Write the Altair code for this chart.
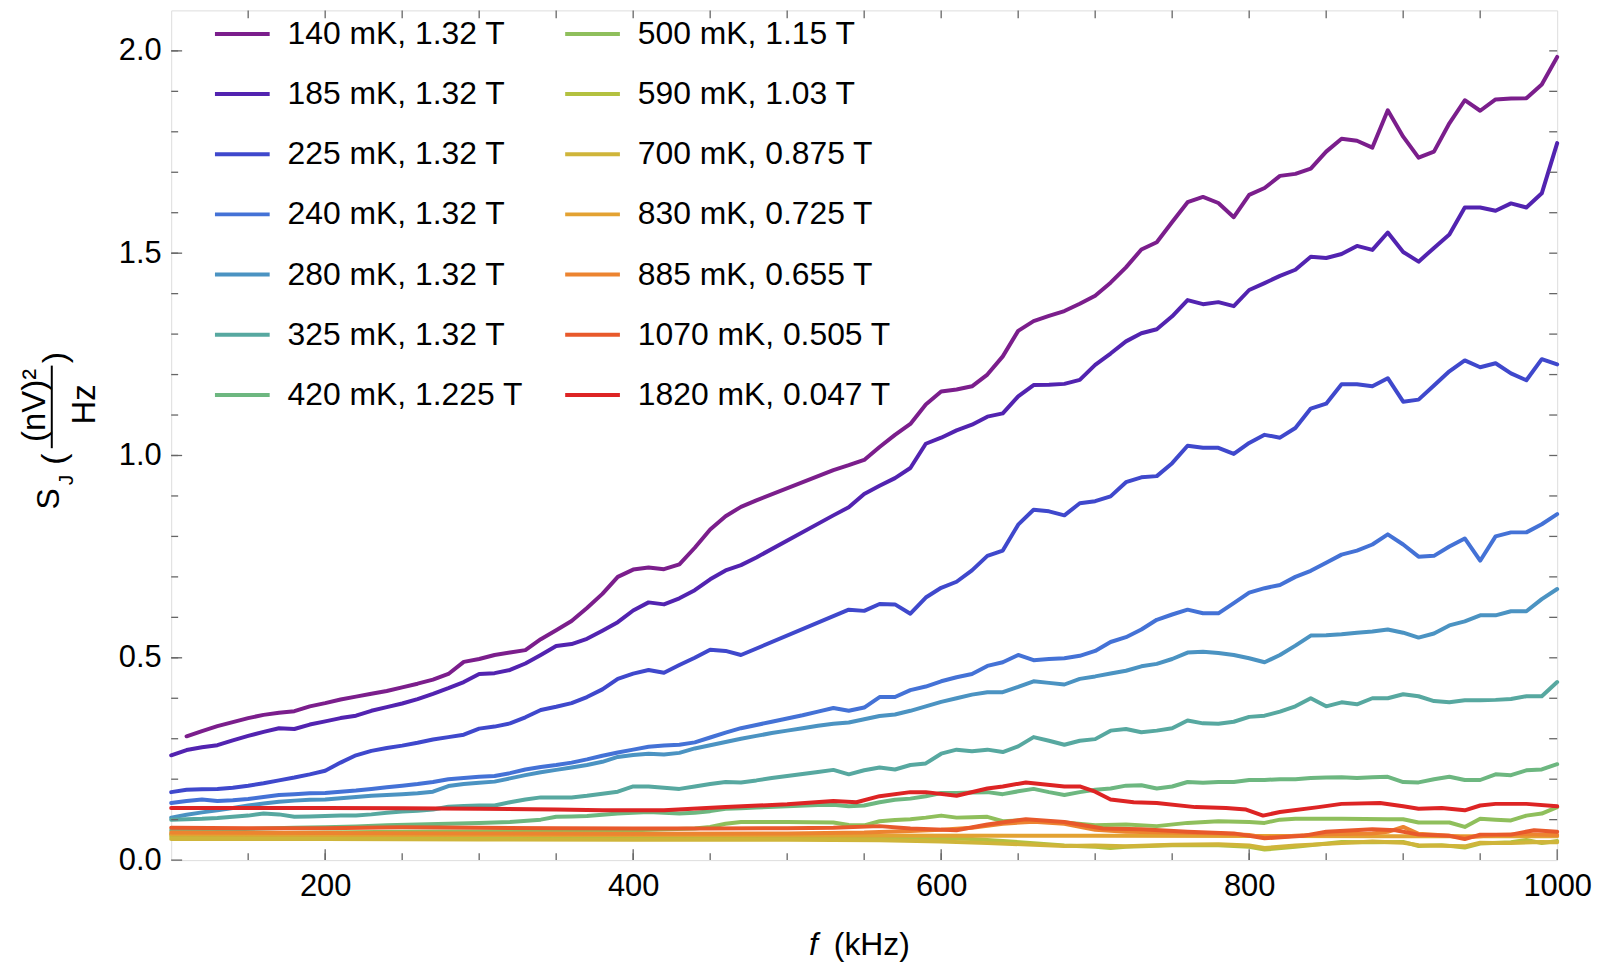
import altair as alt
import pandas as pd

# ---------------- data ----------------
names = ["140 mK, 1.32 T", "185 mK, 1.32 T", "225 mK, 1.32 T", "240 mK, 1.32 T",
         "280 mK, 1.32 T", "325 mK, 1.32 T", "420 mK, 1.225 T", "500 mK, 1.15 T",
         "590 mK, 1.03 T", "700 mK, 0.875 T", "830 mK, 0.725 T", "885 mK, 0.655 T",
         "1070 mK, 0.505 T", "1820 mK, 0.047 T"]
colors = ["#7b1e8c", "#5223b0", "#3f48cc", "#4472d6", "#4b93c2", "#57a8a0", "#6db780",
          "#8fbf5c", "#b3c140", "#cfb53a", "#e3a232", "#ec8430", "#e8592b", "#dd2424"]

f140 = list(range(110, 490, 10)) + list(range(530, 1001, 10))
v140 = [.306, .319, .331, .341, .351, .359, .364, .368, .380, .388,
        .397, .404, .411, .418, .427, .436, .446, .460, .490, .497,
        .507, .513, .519, .546, .568, .591, .623, .658, .700, .718,
        .723, .719, .731, .772, .817, .850, .873, .889,
        .964, .976, .989, 1.021, 1.051, 1.078, 1.126, 1.158,
        1.163, 1.171, 1.200, 1.245, 1.308, 1.332, 1.345, 1.357, 1.375, 1.395,
        1.427, 1.465, 1.509, 1.527, 1.577, 1.626, 1.639, 1.624, 1.589, 1.644,
        1.661, 1.691, 1.696, 1.709, 1.751, 1.783, 1.778, 1.761, 1.853, 1.788,
        1.736, 1.751, 1.821, 1.878, 1.852, 1.880, 1.882, 1.883, 1.917, 1.985]

f185 = list(range(100, 490, 10)) + list(range(530, 1001, 10))
v185 = [.259, .272, .279, .284, .296, .307, .317, .326, .324, .335,
        .343, .351, .357, .369, .378, .387, .398, .411, .425, .440,
        .460, .462, .470, .486, .507, .529, .534, .547, .567, .588,
        .617, .637, .632, .647, .667, .694, .716, .729, .748,
        .852, .872, .905, .925, .944, .969, 1.029, 1.044,
        1.062, 1.076, 1.096, 1.104, 1.146, 1.174, 1.175, 1.177, 1.187, 1.224,
        1.252, 1.282, 1.302, 1.312, 1.344, 1.384, 1.374, 1.379, 1.369, 1.409,
        1.426, 1.444, 1.459, 1.491, 1.488, 1.498, 1.518, 1.508, 1.551, 1.503,
        1.479, 1.513, 1.546, 1.613, 1.613, 1.605, 1.623, 1.613, 1.648, 1.772]

f225 = list(range(100, 480, 10)) + list(range(540, 1001, 10))
v225 = [.168, .174, .175, .176, .179, .184, .190, .197, .204, .212,
        .221, .241, .259, .270, .277, .283, .290, .298, .304, .310,
        .325, .330, .338, .353, .371, .379, .388, .403, .422, .448,
        .461, .470, .463, .482, .500, .520, .517, .507,
        .619, .616, .633, .632, .609, .649, .673,
        .688, .716, .752, .765, .829, .866, .862, .852, .882, .887,
        .899, .934, .946, .949, .981, 1.024, 1.019, 1.019, 1.004, 1.031,
        1.051, 1.044, 1.068, 1.116, 1.128, 1.176, 1.176, 1.171, 1.191, 1.133,
        1.138, 1.173, 1.208, 1.235, 1.218, 1.228, 1.203, 1.186, 1.238, 1.225]

f240 = list(range(100, 1001, 10))
v240 = [.141, .146, .150, .146, .148, .151, .156, .161, .163, .165,
        .166, .169, .172, .176, .180, .184, .188, .193, .200, .203,
        .206, .208, .215, .224, .230, .235, .241, .249, .258, .266,
        .273, .280, .283, .285, .291, .303, .315, .326, .334, .342,
        .350, .358, .367, .376, .369, .377, .403, .403, .420, .429,
        .442, .452, .460, .480, .489, .507, .494, .497, .499, .505,
        .517, .539, .551, .570, .594, .607, .619, .610, .610, .635,
        .661, .672, .680, .700, .715, .735, .755, .765, .780, .805,
        .780, .750, .752, .775, .795, .740, .800, .810, .810, .830,
        .855]

f280 = list(range(100, 1001, 10))
v280 = [.105, .112, .118, .123, .129, .135, .140, .144, .147, .149,
        .150, .153, .156, .159, .161, .163, .165, .169, .183, .188,
        .191, .194, .202, .210, .217, .223, .229, .235, .243, .255,
        .260, .263, .261, .265, .276, .284, .292, .300, .307, .314,
        .320, .326, .332, .337, .340, .348, .356, .360, .369, .380,
        .391, .400, .409, .415, .415, .428, .442, .438, .434, .448,
        .454, .461, .468, .479, .485, .497, .513, .515, .512, .507,
        .499, .489, .507, .530, .555, .556, .558, .562, .565, .570,
        .562, .550, .560, .580, .590, .605, .605, .615, .615, .645,
        .670]

f325 = list(range(100, 1001, 10))
v325 = [.100, .101, .102, .104, .107, .110, .115, .113, .107, .108,
        .109, .110, .110, .113, .117, .120, .122, .125, .132, .134,
        .135, .135, .143, .150, .155, .155, .155, .159, .164, .169,
        .182, .182, .179, .176, .182, .188, .193, .192, .197, .203,
        .208, .213, .218, .223, .212, .222, .229, .224, .235, .239,
        .263, .273, .269, .273, .267, .281, .304, .295, .285, .295,
        .299, .320, .324, .316, .320, .326, .345, .338, .337, .342,
        .354, .357, .367, .380, .400, .380, .390, .385, .400, .400,
        .410, .405, .393, .390, .395, .395, .396, .398, .405, .405,
        .440]

f420 = list(range(100, 341, 20)) + list(range(350, 481, 10)) + [500, 520] + list(range(530, 1001, 10))
v420 = [.074, .075, .076, .078, .080, .081, .083, .086, .088, .090, .092, .094, .100,
        .107, .108, .109, .112, .115, .117, .119, .117, .115, .117, .121, .127, .128, .130,
        .133, .136,
        .137, .133, .135, .143, .149, .152, .158, .166,
        .166, .167, .168, .163, .170, .176, .168, .161, .168, .174,
        .177, .184, .185, .177, .182, .193, .191, .193, .193, .198,
        .198, .200, .200, .203, .204, .205, .203, .205, .206, .193,
        .192, .200, .206, .198, .198, .212, .210, .222, .224, .237]

f500 = [100, 150, 200, 250, 300, 350, 400, 440, 450, 460, 470, 500, 530, 540, 550, 560,
        570, 580, 590, 600, 610, 620, 630, 640, 650, 660, 680, 700, 720, 740, 760, 780,
        800, 810, 820, 830, 860, 890, 900, 910, 930, 940, 950, 960, 970, 980, 990, 1000]
v500 = [.064, .066, .068, .070, .071, .072, .074, .078, .082, .090, .094, .094, .093, .087,
        .086, .096, .099, .101, .105, .110, .105, .106, .107, .096, .098, .097, .093, .086,
        .088, .084, .092, .096, .094, .092, .100, .102, .102, .101, .101, .093, .093, .082,
        .102, .100, .098, .110, .115, .131]

f590 = [100, 200, 300, 400, 450, 500, 550, 600, 620, 640, 660, 680, 700, 710, 720, 750,
        780, 800, 810, 830, 860, 880, 900, 910, 925, 940, 950, 970, 980, 990, 1000]
v590 = [.058, .057, .056, .055, .056, .056, .055, .054, .052, .047, .042, .036, .033, .030,
        .033, .037, .037, .033, .026, .033, .045, .044, .045, .035, .037, .031, .041, .044,
        .050, .042, .047]

f700 = [100, 200, 300, 400, 500, 560, 600, 630, 660, 680, 700, 720, 750, 780, 800, 810,
        830, 860, 880, 900, 910, 940, 950, 970, 990, 1000]
v700 = [.052, .052, .051, .050, .050, .049, .046, .042, .038, .035, .036, .034, .038, .039,
        .036, .030, .036, .042, .046, .043, .037, .034, .043, .042, .045, .044]

f830 = [100, 300, 500, 700, 900, 1000]
v830 = [.063, .062, .061, .060, .059, .059]

f885 = [100, 200, 300, 400, 500, 550, 580, 600, 620, 640, 660, 680, 700, 720, 750, 780,
        800, 810, 830, 850, 880, 890, 900, 910, 930, 940, 960, 980, 1000]
v885 = [.068, .067, .066, .065, .066, .068, .072, .075, .080, .090, .095, .090, .075, .070,
        .068, .066, .062, .056, .060, .064, .066, .070, .082, .065, .060, .056, .062, .064,
        .062]

f1070 = [100, 150, 200, 250, 300, 350, 400, 450, 500, 530, 560, 580, 610, 630, 655, 680,
         705, 730, 760, 790, 810, 835, 850, 880, 895, 910, 930, 940, 950, 970, 985, 1000]
v1070 = [.080, .079, .079, .081, .080, .079, .078, .078, .079, .080, .084, .078, .074, .088,
         .101, .094, .078, .076, .070, .066, .054, .060, .070, .076, .074, .063, .060, .052,
         .063, .063, .074, .070]

f1820 = [100, 150, 200, 250, 300, 350, 380, 420, 460, 500, 530, 545, 560, 580, 590, 610,
         630, 640, 655, 680, 690, 700, 710, 725, 740, 765, 785, 798, 809, 820, 845, 860,
         885, 900, 910, 925, 940, 950, 960, 980, 1000]
v1820 = [.129, .129, .129, .128, .127, .125, .123, .123, .131, .138, .146, .143, .158, .168,
         .168, .159, .177, .182, .192, .182, .182, .169, .150, .143, .141, .131, .129, .125,
         .110, .119, .131, .139, .141, .133, .127, .129, .123, .135, .139, .139, .133]

x_tick_labels = [200, 400, 600, 800, 1000]
y_tick_labels = [0.0, 0.5, 1.0, 1.5, 2.0]
x_minor = [150, 200, 250, 300, 350, 400, 450, 500, 550, 600, 650, 700, 750, 800, 850, 900, 950]
y_minor = [0.1, 0.2, 0.3, 0.4, 0.5, 0.6, 0.7, 0.8, 0.9, 1.0, 1.1, 1.2, 1.3, 1.4, 1.5,
           1.6, 1.7, 1.8, 1.9, 2.0]

series_f = [f140, f185, f225, f240, f280, f325, f420, f500, f590, f700, f830, f885, f1070, f1820]
series_v = [v140, v185, v225, v240, v280, v325, v420, v500, v590, v700, v830, v885, v1070, v1820]

rows = []
for name, fs, vs in zip(names, series_f, series_v):
    assert len(fs) == len(vs), name
    for f, v in zip(fs, vs):
        rows.append({"series": name, "f": f, "s": v})
df = pd.DataFrame(rows)

# ---------------- layout ----------------
W, H = 1393, 854
FONT = "Liberation Sans"
TICKC = "#666666"

xscale = alt.Scale(domain=[100, 1000], nice=False, zero=False)
yscale = alt.Scale(domain=[0, 2.1], nice=False, zero=False)

x_axis = alt.Axis(values=x_tick_labels, title=None, domain=False, ticks=False, grid=False,
                  labelFontSize=31, labelFont=FONT, labelColor="black", labelPadding=12,
                  labelFlush=False, format="d")
y_axis = alt.Axis(values=y_tick_labels, title=None, domain=False, ticks=False, grid=False,
                  labelFontSize=31, labelFont=FONT, labelColor="black", labelPadding=10,
                  format=".1f")

# legend: two columns filled top-to-bottom
color_scale = alt.Scale(domain=names, range=colors)
legend = alt.Legend(orient="none", legendX=42, legendY=-6, columns=2, title=None,
                    symbolType="stroke", symbolSize=3025, symbolStrokeWidth=4,
                    labelFontSize=32, labelFont=FONT, labelColor="black", labelOffset=16,
                    rowPadding=14.5, columnPadding=34, padding=0, gridAlign="each",
                    labelLimit=400, symbolOpacity=1)

layers = []
for name in names:
    layers.append(
        alt.Chart(df).transform_filter(alt.datum.series == name)
        .mark_line(strokeWidth=4, strokeJoin="round", strokeCap="round")
        .encode(x=alt.X("f:Q", scale=xscale, axis=x_axis),
                y=alt.Y("s:Q", scale=yscale, axis=y_axis),
                color=alt.Color("series:N", scale=color_scale, legend=legend),
                order=alt.Order("f:Q"))
    )

xt = pd.DataFrame({"v": x_minor})
yt = pd.DataFrame({"v": y_minor})
xmaj = pd.DataFrame({"v": x_tick_labels})
ymaj = pd.DataFrame({"v": y_tick_labels})


def xrule(data, y0, y1):
    return alt.Chart(data).mark_rule(color=TICKC, strokeWidth=1.3).encode(
        x=alt.X("v:Q", scale=xscale, axis=x_axis), y=alt.value(y0), y2=alt.value(y1))


def yrule(data, x0, x1):
    return alt.Chart(data).mark_rule(color=TICKC, strokeWidth=1.3).encode(
        y=alt.Y("v:Q", scale=yscale, axis=y_axis), x=alt.value(x0), x2=alt.value(x1))


ticks = [
    xrule(xt, H, H - 7), xrule(xmaj, H, H - 11),   # bottom
    xrule(xt, 0, 8),                              # top
    yrule(yt, 0, 7), yrule(ymaj, 0, 11),          # left
    yrule(yt, W, W - 8),                          # right
]


def label(txt, x, y, size, angle=0, style="normal", align="center", baseline="middle"):
    return alt.Chart(pd.DataFrame({"t": [txt]})).mark_text(
        font=FONT, fontSize=size, fontStyle=style, angle=angle, align=align,
        baseline=baseline, color="black").encode(
        text="t:N", x=alt.value(x), y=alt.value(y))


title_parts = ["S", "J", "(", "(nV)²", "Hz", ")", "f", "(kHz)"]
titles = [
    label(title_parts[0], -123, 491, 32, angle=270),
    label(title_parts[1], -105, 472, 21, angle=270),
    label(title_parts[2], -117, 451, 34, angle=270),
    label(title_parts[3], -137, 397, 33, angle=270),
    label(title_parts[4], -87, 396, 33, angle=270),
    label(title_parts[5], -116, 349, 34, angle=270),
    label(title_parts[6], 641, 949, 32, style="italic", align="left", baseline="alphabetic"),
    label(title_parts[7], 666, 949, 32, align="left", baseline="alphabetic"),
]
bar = alt.Chart(pd.DataFrame({"t": [0]})).mark_rule(color="black", strokeWidth=2).encode(
    x=alt.value(-120), y=alt.value(357), y2=alt.value(440))

chart = alt.layer(*layers, *ticks, *titles, bar).properties(
    width=W, height=H,
    autosize=alt.AutoSizeParams(type="none"),
    padding={"left": 164, "top": 0, "right": 35, "bottom": 103},
).configure_view(stroke="#808080", strokeWidth=1.3).configure(background="white")

chart.save("out.html", embed_options={"renderer": "svg", "actions": False})
